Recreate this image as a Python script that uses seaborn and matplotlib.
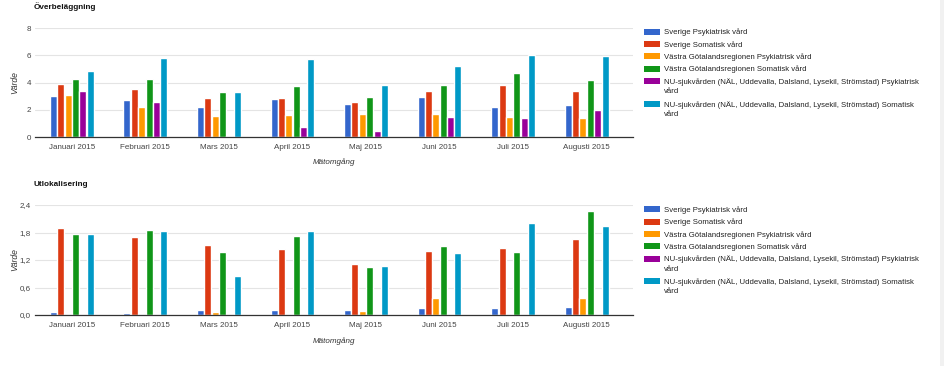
import pandas as pd
import matplotlib.pyplot as plt
import seaborn as sb
from matplotlib.patches import Rectangle

sb.set_style('white')
plt.rcParams['font.family'] = ['Liberation Sans', 'DejaVu Sans']

manader = ['Januari 2015', 'Februari 2015', 'Mars 2015', 'April 2015',
           'Maj 2015', 'Juni 2015', 'Juli 2015', 'Augusti 2015']
serier = ['Sverige Psykiatrisk vård',
          'Sverige Somatisk vård',
          'Västra Götalandsregionen Psykiatrisk vård',
          'Västra Götalandsregionen Somatisk vård',
          'NU-sjukvården (NÄL, Uddevalla, Dalsland, Lysekil, Strömstad) Psykiatrisk vård',
          'NU-sjukvården (NÄL, Uddevalla, Dalsland, Lysekil, Strömstad) Somatisk vård']
legend_texter = ['Sverige Psykiatrisk vård',
                 'Sverige Somatisk vård',
                 'Västra Götalandsregionen Psykiatrisk vård',
                 'Västra Götalandsregionen Somatisk vård',
                 'NU-sjukvården (NÄL, Uddevalla, Dalsland, Lysekil, Strömstad) Psykiatrisk\nvård',
                 'NU-sjukvården (NÄL, Uddevalla, Dalsland, Lysekil, Strömstad) Somatisk\nvård']
farger = ['#3366cc', '#dc3912', '#ff9900', '#109618', '#990099', '#0099c6']

# Överbeläggning
over_sv_psyk = [3.0, 2.7, 2.2, 2.8, 2.4, 2.9, 2.2, 2.35]
over_sv_som = [3.86, 3.52, 2.86, 2.86, 2.57, 3.37, 3.79, 3.37]
over_vgr_psyk = [3.06, 2.2, 1.54, 1.6, 1.69, 1.66, 1.49, 1.39]
over_vgr_som = [4.25, 4.23, 3.28, 3.72, 2.93, 3.81, 4.67, 4.16]
over_nu_psyk = [3.37, 2.57, 0.07, 0.71, 0.42, 1.47, 1.39, 1.98]
over_nu_som = [4.82, 5.8, 3.3, 5.7, 3.79, 5.21, 6.01, 5.92]

# Utlokalisering
utl_sv_psyk = [0.06, 0.05, 0.11, 0.11, 0.10, 0.15, 0.15, 0.17]
utl_sv_som = [1.89, 1.70, 1.53, 1.45, 1.12, 1.40, 1.47, 1.66]
utl_vgr_psyk = [0.0, 0.0, 0.06, 0.0, 0.09, 0.37, 0.0, 0.37]
utl_vgr_som = [1.76, 1.86, 1.38, 1.73, 1.05, 1.51, 1.38, 2.26]
utl_nu_psyk = [0.0, 0.0, 0.0, 0.0, 0.0, 0.0, 0.0, 0.0]
utl_nu_som = [1.76, 1.84, 0.86, 1.84, 1.08, 1.36, 2.0, 1.95]

W, H = 945, 366


def tabell(*kolumner):
    rader = []
    for namn, varden in zip(serier, kolumner):
        for m, v in zip(manader, varden):
            rader.append({'Mätomgång': m, 'Serie': namn, 'Värde': v})
    return pd.DataFrame(rader)


def legend(y0):
    # egen legend i pixelkoordinater, rutan i höjd med första raden
    y = y0
    for f, t in zip(farger, legend_texter):
        fig.add_artist(Rectangle((644 / W, 1 - (y + 3) / H), 16 / W, 6 / H,
                                 transform=fig.transFigure, facecolor=f,
                                 edgecolor='none'))
        fig.text(664 / W, 1 - (y - 3) / H, t, fontsize=5.6, color='#222222',
                 va='top', ha='left', linespacing=1.45)
        y += 12.3 + 10.5 * t.count('\n')


def rita(ax, df, titel, ymax, yticks, ytext):
    sb.barplot(data=df, x='Mätomgång', y='Värde', hue='Serie', hue_order=serier,
               palette=farger, width=0.6, gap=0.05, saturation=1,
               legend=False, ax=ax)
    ax.set_ylim(0, ymax)
    ax.set_xlim(-0.5, 7.63)
    ax.set_yticks(yticks)
    ax.set_yticklabels(ytext)
    ax.grid(axis='y', color='#e4e4e4', linewidth=0.8)
    ax.set_axisbelow(True)
    for s in ['top', 'right', 'left']:
        ax.spines[s].set_visible(False)
    ax.spines['bottom'].set_color('#333333')
    ax.spines['bottom'].set_linewidth(0.9)
    ax.tick_params(length=0, labelsize=5.8, colors='#444444')
    ax.tick_params(axis='x', pad=5)
    ax.tick_params(axis='y', pad=3)
    ax.set_xlabel('Mätomgång', fontsize=5.8, style='italic', color='#333333')
    ax.xaxis.set_label_coords(0.5, -0.2)
    ax.set_ylabel('Värde', fontsize=6.2, style='italic', color='#333333')
    ax.yaxis.set_label_coords(-0.027, 0.5)
    ax.set_title(titel, fontsize=5.9, fontweight='bold', loc='left',
                 x=-0.003, y=1.1, color='#111111')


fig = plt.figure(figsize=(9.45, 3.66), dpi=100)
ax1 = fig.add_axes([35 / W, 1 - 137 / H, 598 / W, 109 / H])
ax2 = fig.add_axes([35 / W, 1 - 315 / H, 598 / W, 110 / H])

rita(ax1, tabell(over_sv_psyk, over_sv_som, over_vgr_psyk, over_vgr_som,
                 over_nu_psyk, over_nu_som),
     'Överbeläggning', 8, [0, 2, 4, 6, 8], ['0', '2', '4', '6', '8'])
rita(ax2, tabell(utl_sv_psyk, utl_sv_som, utl_vgr_psyk, utl_vgr_som,
                 utl_nu_psyk, utl_nu_som),
     'Utlokalisering', 2.4, [0, 0.6, 1.2, 1.8, 2.4],
     ['0,0', '0,6', '1,2', '1,8', '2,4'])

legend(31.7)
legend(209.3)

# grå list längst till höger
fig.add_artist(Rectangle((940 / W, 0), 5 / W, 1, transform=fig.transFigure,
                         facecolor='#f1f1f1', edgecolor='none'))

fig.savefig('out.png', dpi=100)
